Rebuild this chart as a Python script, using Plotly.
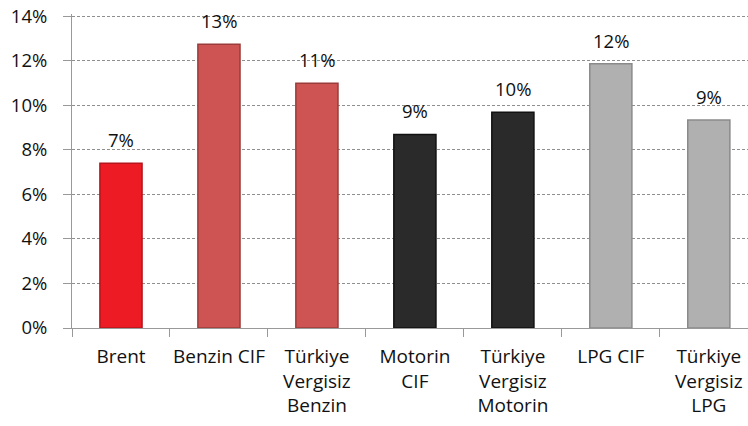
import plotly.graph_objects as go

categories = ["Brent", "Benzin CIF", "Türkiye<br>Vergisiz<br>Benzin", "Motorin<br>CIF",
              "Türkiye<br>Vergisiz<br>Motorin", "LPG CIF", "Türkiye<br>Vergisiz<br>LPG"]
values = [7.4, 12.75, 11.0, 8.7, 9.7, 11.87, 9.35]
value_labels = ["7%", "13%", "11%", "9%", "10%", "12%", "9%"]
bar_colors = ["#ED1C24", "#CD5452", "#CD5452", "#2A2A2A", "#2A2A2A", "#B0B0B0", "#B0B0B0"]
edge_colors = ["#B5151B", "#9A3C3A", "#9A3C3A", "#111111", "#111111", "#8A8A8A", "#8A8A8A"]
y_ticks = [0, 2, 4, 6, 8, 10, 12, 14]
y_tick_labels = ["0%", "2%", "4%", "6%", "8%", "10%", "12%", "14%"]

FONT = "Open Sans"
FS = 18.5

fig = go.Figure()
fig.add_trace(go.Bar(
    x=categories, y=values, width=0.43,
    marker=dict(color=bar_colors, line=dict(color=edge_colors, width=1.5)),
    hoverinfo="skip",
))

for c, v, t in zip(categories, values, value_labels):
    fig.add_annotation(x=c, y=v, text=t, showarrow=False, yanchor="bottom",
                       yshift=9, font=dict(family=FONT, size=FS, color="#111111"))

fig.update_layout(
    width=748, height=426,
    margin=dict(l=72, r=0, t=14, b=98, autoexpand=False),
    paper_bgcolor="white", plot_bgcolor="white",
    showlegend=False,
    font=dict(family=FONT, size=FS, color="#111111"),
)
fig.update_xaxes(
    range=[-0.5, 6.4], showgrid=False, showline=True, linecolor="#999999", linewidth=1,
    ticks="outside", tickson="boundaries", ticklen=8, tickcolor="#999999",
    tickangle=0, automargin=False, ticklabelstandoff=11,
    tickfont=dict(family=FONT, size=19, color="#111111"), fixedrange=True,
)
fig.update_yaxes(
    range=[0, 14.11], tickvals=y_ticks, ticktext=y_tick_labels, automargin=False,
    showgrid=True, gridcolor="#8F8F8F", griddash="3px,2px", gridwidth=1,
    showline=True, linecolor="#999999", linewidth=1, zeroline=False,
    ticks="outside", ticklen=8, tickcolor="#999999", ticklabelstandoff=12,
    ticklabeloverflow="allow",
    tickfont=dict(family=FONT, size=FS, color="#111111"),
)

fig.write_html(
    "out.html",
    config={"displayModeBar": False, "staticPlot": True},
    post_script="document.body.style.margin='0';document.body.style.overflow='hidden';",
)
